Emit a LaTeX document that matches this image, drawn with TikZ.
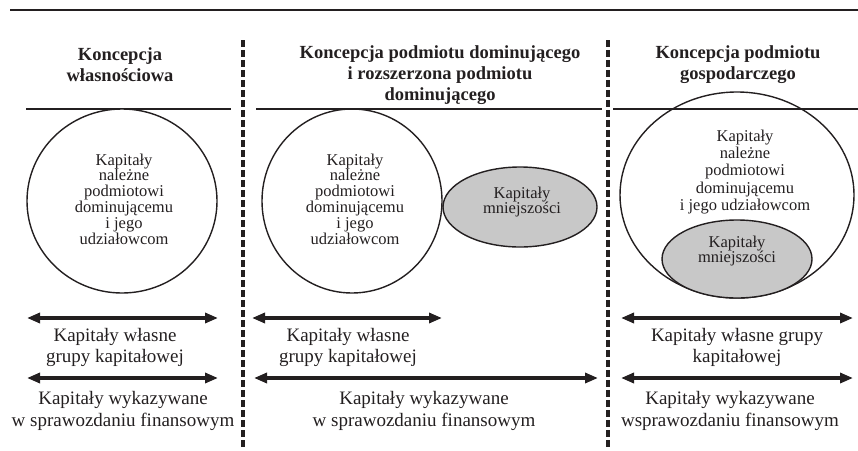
\documentclass[tikz,border=0pt]{standalone}
\usepackage{fontspec}
\setmainfont{Liberation Serif}
\usetikzlibrary{arrows.meta}
\definecolor{InkBlack}{HTML}{231F20}
\definecolor{MinorGray}{HTML}{C8C8C8}
\tikzset{
  span/.style={{Triangle[length=13pt,width=10pt]}-{Triangle[length=13pt,width=10pt]},line width=3.2pt,InkBlack},
  divider/.style={InkBlack,line width=3.5pt,dash pattern=on 7pt off 3pt},
  capt/.style={align=center,font=\fontsize{18.5}{21}\selectfont\bfseries,InkBlack},
  lbl/.style={align=center,font=\fontsize{19}{21.5}\selectfont,InkBlack},
  inner/.style={align=center,font=\fontsize{16.5}{15.8}\selectfont,InkBlack},
}
\begin{document}
\begin{tikzpicture}[x=1pt,y=-1pt]
    \useasboundingbox (0,0) rectangle (858,450);
    % rules
    \draw[InkBlack,line width=1.4pt] (10,10) -- (858,10);
    \draw[divider] (243,40) -- (243,450);
    \draw[divider] (608,40) -- (608,450);
    \draw[InkBlack,line width=1.1pt] (26,109) -- (231,109);
    \draw[InkBlack,line width=1.1pt] (256,109) -- (602,109);
    \draw[InkBlack,line width=1.1pt] (613,109) -- (858,109);
    % headings
    \node[capt] (hOwn) at (120,64.5) {Koncepcja\\własnościowa};
    \node[capt] (hPar) at (440,75) {Koncepcja podmiotu dominującego\\i rozszerzona podmiotu\\dominującego};
    \node[capt] (hEnt) at (738,64.5) {Koncepcja podmiotu\\gospodarczego};
    % equity sets
    \coordinate (cOwn) at (122,201);
    \coordinate (cPar) at (352,201);
    \coordinate (cMinA) at (520,207);
    \coordinate (cEnt) at (737,195);
    \coordinate (cMinB) at (737,259);
    \fill[white] (cOwn) ellipse [x radius=95pt,y radius=92pt];
    \draw[InkBlack,line width=1.4pt] (cOwn) ellipse [x radius=95pt,y radius=92pt];
    \draw[InkBlack,line width=1.4pt] (cPar) ellipse [x radius=90pt,y radius=92pt];
    \fill[MinorGray] (cMinA) ellipse [x radius=77pt,y radius=40pt];
    \draw[InkBlack,line width=1.4pt] (cMinA) ellipse [x radius=77pt,y radius=40pt];
    \draw[InkBlack,line width=1.4pt] (cEnt) ellipse [x radius=117pt,y radius=103pt];
    \fill[MinorGray] (cMinB) ellipse [x radius=75pt,y radius=39pt];
    \draw[InkBlack,line width=1.4pt] (cMinB) ellipse [x radius=75pt,y radius=39pt];
    \node[inner] (tOwn) at (124,199) {Kapitały\\należne\\podmiotowi\\dominującemu\\i jego\\udziałowcom};
    \node[inner] (tPar) at (355,199) {Kapitały\\należne\\podmiotowi\\dominującemu\\i jego\\udziałowcom};
    \node[inner] (tMinA) at (522,202) {Kapitały\\mniejszości};
    \node[inner,font=\fontsize{16.5}{17.2}\selectfont] (tEnt) at (745,172) {Kapitały\\należne\\podmiotowi\\dominującemu\\i jego udziałowcom};
    \node[inner] (tMinB) at (737,251) {Kapitały\\mniejszości};
    % ranges
    \coordinate (aOwnL) at (27,318);   \coordinate (aOwnR) at (218,318);
    \coordinate (bOwnL) at (27,378);   \coordinate (bOwnR) at (218,378);
    \coordinate (aParL) at (252,318);  \coordinate (aParR) at (442,318);
    \coordinate (bParL) at (254,378);  \coordinate (bParR) at (598,378);
    \coordinate (aEntL) at (621,318);  \coordinate (aEntR) at (853,318);
    \coordinate (bEntL) at (621,378);  \coordinate (bEntR) at (853,378);
    \draw[span] (aOwnL) -- (aOwnR);
    \draw[span] (bOwnL) -- (bOwnR);
    \draw[span] (aParL) -- (aParR);
    \draw[span] (bParL) -- (bParR);
    \draw[span] (aEntL) -- (aEntR);
    \draw[span] (bEntL) -- (bEntR);
    \node[lbl] (lOwnA) at (115,347.5) {Kapitały własne\\grupy kapitałowej};
    \node[lbl] (lOwnB) at (123,411) {Kapitały wykazywane\\w sprawozdaniu finansowym};
    \node[lbl] (lParA) at (348,347.5) {Kapitały własne\\grupy kapitałowej};
    \node[lbl] (lParB) at (424,411) {Kapitały wykazywane\\w sprawozdaniu finansowym};
    \node[lbl] (lEntA) at (737,347.5) {Kapitały własne grupy\\kapitałowej};
    \node[lbl] (lEntB) at (730,411) {Kapitały wykazywane\\wsprawozdaniu finansowym};
\end{tikzpicture}
\end{document}
